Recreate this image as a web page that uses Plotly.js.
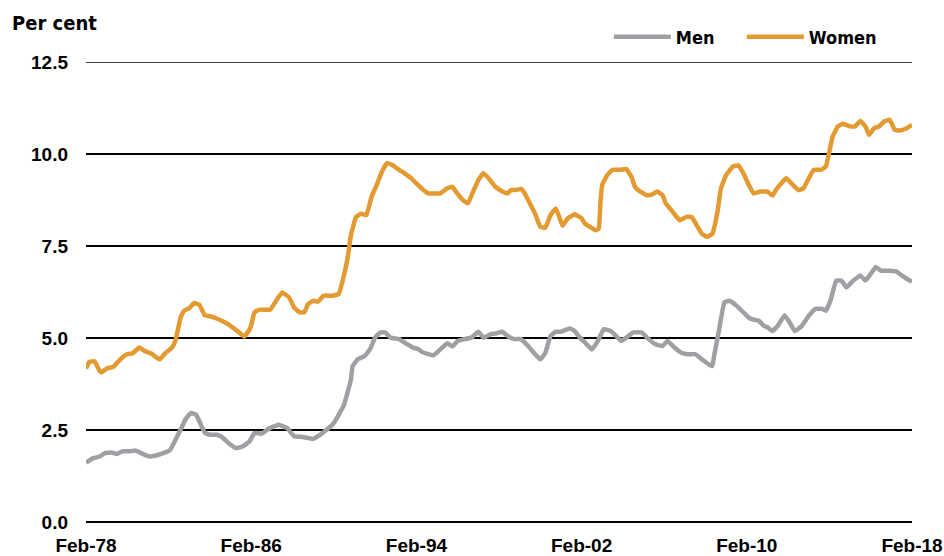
<!DOCTYPE html>
<html>
<head>
<meta charset="utf-8">
<script src="https://cdn.plot.ly/plotly-3.0.1.min.js"></script>
<style>html,body{margin:0;padding:0;background:#fff;}#chart{width:944px;height:556px;}</style>
</head>
<body>
<div id="chart"></div>
<script>
// Women (per cent)
const womenDates = ["1978-02","1978-04","1978-07","1978-10","1978-11","1979-02","1979-06","1979-10","1980-02","1980-05","1980-09","1980-12","1981-04","1981-07","1981-09","1981-12","1982-04","1982-06","1982-09","1982-11","1983-02","1983-05","1983-08","1983-11","1984-02","1984-06","1984-10","1985-02","1985-06","1985-10","1986-01","1986-02","1986-04","1986-07","1987-01","1987-04","1987-08","1987-12","1988-03","1988-06","1988-09","1988-11","1989-02","1989-05","1989-08","1990-01","1990-05","1990-07","1990-10","1990-12","1991-03","1991-06","1991-09","1991-12","1992-03","1992-06","1992-09","1992-12","1993-04","1993-07","1993-11","1994-02","1994-05","1994-09","1995-01","1995-04","1995-08","1995-11","1996-01","1996-05","1996-08","1996-11","1997-02","1997-05","1997-08","1997-12","1998-04","1998-07","1998-09","1998-12","1999-03","1999-05","1999-08","1999-11","2000-02","2000-05","2000-08","2000-11","2001-01","2001-03","2001-06","2001-10","2002-02","2002-04","2002-07","2002-10","2002-12","2003-01","2003-02","2003-05","2003-08","2003-12","2004-04","2004-07","2004-09","2004-12","2005-04","2005-07","2005-10","2006-01","2006-03","2006-07","2006-11","2007-03","2007-06","2007-09","2007-12","2008-03","2008-06","2008-09","2008-11","2009-02","2009-06","2009-09","2009-12","2010-03","2010-06","2010-10","2011-02","2011-05","2011-07","2011-10","2012-01","2012-04","2012-08","2012-11","2013-02","2013-05","2013-09","2013-12","2014-02","2014-04","2014-07","2014-10","2015-02","2015-05","2015-08","2015-11","2016-01","2016-04","2016-07","2016-10","2017-01","2017-04","2017-07","2017-11","2018-02"];
const womenValues = [4.17,4.35,4.37,4.10,4.06,4.17,4.22,4.42,4.56,4.58,4.74,4.65,4.58,4.47,4.42,4.58,4.74,4.92,5.56,5.74,5.81,5.95,5.90,5.62,5.59,5.53,5.44,5.33,5.19,5.04,5.22,5.35,5.70,5.77,5.77,5.97,6.24,6.11,5.83,5.70,5.70,5.92,6.01,5.99,6.15,6.15,6.20,6.52,7.15,7.79,8.29,8.38,8.34,8.84,9.16,9.52,9.75,9.70,9.57,9.48,9.34,9.20,9.07,8.93,8.93,8.93,9.07,9.11,8.98,8.75,8.66,8.98,9.29,9.48,9.34,9.11,8.98,8.93,9.02,9.02,9.05,8.93,8.66,8.38,8.02,8.00,8.34,8.52,8.29,8.05,8.25,8.36,8.25,8.11,8.02,7.93,7.97,8.70,9.16,9.43,9.57,9.57,9.59,9.38,9.11,8.98,8.88,8.90,8.98,8.88,8.66,8.43,8.20,8.29,8.29,8.06,7.83,7.75,7.83,8.43,9.07,9.43,9.66,9.69,9.48,9.18,8.93,8.98,8.98,8.87,9.02,9.20,9.34,9.20,9.02,9.07,9.34,9.57,9.57,9.66,10.07,10.48,10.75,10.82,10.75,10.75,10.90,10.75,10.52,10.70,10.75,10.89,10.93,10.66,10.64,10.70,10.79];

// Men (per cent)
const menDates = ["1978-02","1978-06","1978-10","1979-01","1979-05","1979-08","1979-11","1980-03","1980-07","1980-11","1981-03","1981-06","1981-11","1982-03","1982-06","1982-09","1982-12","1983-03","1983-06","1983-08","1983-11","1984-02","1984-06","1984-09","1985-01","1985-05","1985-09","1986-01","1986-04","1986-08","1986-12","1987-06","1987-11","1988-03","1988-08","1989-02","1989-06","1989-10","1990-02","1990-05","1990-08","1990-10","1990-12","1991-01","1991-04","1991-08","1991-11","1992-02","1992-05","1992-08","1992-11","1993-04","1993-07","1993-12","1994-03","1994-05","1994-09","1994-12","1995-04","1995-08","1995-11","1996-02","1996-06","1996-10","1997-02","1997-05","1997-09","1997-12","1998-04","1998-07","1998-11","1999-03","1999-07","1999-11","2000-02","2000-05","2000-08","2000-11","2001-02","2001-07","2001-10","2002-01","2002-04","2002-08","2002-11","2003-03","2003-07","2003-10","2004-01","2004-04","2004-08","2005-01","2005-05","2005-09","2006-01","2006-04","2006-08","2006-12","2007-04","2007-08","2007-12","2008-04","2008-06","2008-07","2008-10","2009-01","2009-04","2009-08","2009-12","2010-03","2010-05","2010-09","2010-12","2011-02","2011-05","2011-08","2011-12","2012-03","2012-06","2012-10","2013-02","2013-06","2013-10","2013-12","2014-03","2014-06","2014-09","2014-12","2015-04","2015-08","2015-11","2016-02","2016-05","2016-08","2017-01","2017-05","2017-08","2017-11","2018-02"];
const menValues = [1.61,1.73,1.78,1.87,1.89,1.85,1.92,1.92,1.94,1.85,1.78,1.80,1.87,1.96,2.23,2.51,2.80,2.96,2.92,2.73,2.43,2.37,2.37,2.31,2.14,2.01,2.05,2.19,2.42,2.40,2.53,2.64,2.55,2.33,2.31,2.26,2.37,2.51,2.69,2.92,3.19,3.51,3.87,4.24,4.42,4.51,4.69,5.01,5.15,5.15,5.01,4.97,4.88,4.74,4.70,4.63,4.56,4.53,4.69,4.86,4.77,4.92,4.97,5.01,5.17,5.01,5.10,5.12,5.17,5.06,4.97,4.97,4.78,4.56,4.42,4.60,5.06,5.17,5.17,5.26,5.19,5.01,4.88,4.69,4.88,5.24,5.19,5.06,4.92,5.01,5.15,5.15,4.97,4.83,4.78,4.92,4.74,4.60,4.56,4.56,4.42,4.28,4.24,4.50,5.24,5.97,6.01,5.88,5.70,5.56,5.51,5.47,5.33,5.29,5.19,5.33,5.62,5.42,5.19,5.33,5.60,5.79,5.79,5.74,6.06,6.56,6.56,6.38,6.56,6.70,6.56,6.74,6.93,6.83,6.83,6.81,6.70,6.61,6.53];

const yTickValues = [0, 2.5, 5, 7.5, 10, 12.5];
const xTickDates = ["1978-02-01","1986-02-01","1994-02-01","2002-02-01","2010-02-01","2018-02-01"];
const xTickLabels = ["Feb-78","Feb-86","Feb-94","Feb-02","Feb-10","Feb-18"];

const TICKFONT = '"Liberation Sans", Arial, sans-serif';
const NARROW = '"DejaVu Sans Condensed", "Liberation Sans Narrow", "Arial Narrow", sans-serif';

const traces = [
  {x: menDates, y: menValues, name: 'Men', type: 'scatter', mode: 'lines', legendwidth: 61,
   line: {color: '#a0a0a4', width: 4.5, shape: 'spline', smoothing: 0.3}},
  {x: womenDates, y: womenValues, name: 'Women', type: 'scatter', mode: 'lines', legendwidth: 90,
   line: {color: '#e39a30', width: 4.5, shape: 'spline', smoothing: 0.3}}
];

const layout = {
  width: 944, height: 556,
  margin: {l: 86, r: 32, t: 62, b: 34},
  paper_bgcolor: '#ffffff', plot_bgcolor: '#ffffff',
  font: {family: TICKFONT, size: 19, color: '#000000', weight: 'bold'},
  showlegend: true,
  legend: {orientation: 'h', x: 0.633, xanchor: 'left', y: 1.054, yanchor: 'middle',
           font: {family: NARROW, size: 18, color: '#000', weight: 'bold'},
           bgcolor: 'rgba(0,0,0,0)', itemwidth: 57, traceorder: 'normal'},
  xaxis: {type: 'date', range: ['1978-02-01', '2018-02-01'], automargin: false,
          tickmode: 'array', tickvals: xTickDates, ticktext: xTickLabels,
          showgrid: false, zeroline: false, showline: false, ticks: '',
          ticklabelstandoff: 10,
          tickfont: {family: TICKFONT, size: 19, color: '#000', weight: 'bold'}},
  yaxis: {range: [0, 12.5], tickmode: 'array', tickvals: yTickValues, automargin: false,
          tickformat: '.1f', showgrid: true, gridcolor: '#000000', gridwidth: 1.5,
          zeroline: true, zerolinecolor: '#000000', zerolinewidth: 1.5,
          showline: false, ticks: '', ticklabelstandoff: 17,
          tickfont: {family: TICKFONT, size: 19, color: '#000', weight: 'bold'}},
  shapes: [
    {type: 'line', xref: 'paper', x0: 0, x1: 1, yref: 'y', y0: 12.5, y1: 12.5,
     line: {color: '#000000', width: 1.5}, layer: 'below'}
  ],
  annotations: [
    {text: 'Per cent', xref: 'paper', yref: 'paper', x: -0.092, y: 1.085,
     xanchor: 'left', yanchor: 'middle', showarrow: false,
     font: {family: NARROW, size: 20, color: '#000', weight: 'bold'}}
  ]
};

Plotly.newPlot('chart', traces, layout, {displayModeBar: false, staticPlot: true});
</script>
</body>
</html>
